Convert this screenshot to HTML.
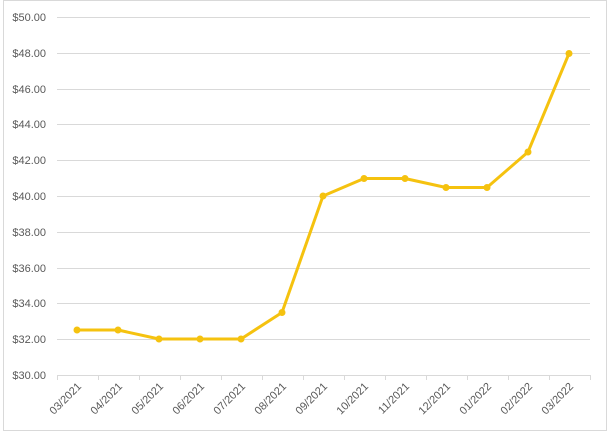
<!DOCTYPE html>
<html><head><style>body{margin:0;background:#fff}</style></head><body>
<svg width="610" height="435" xmlns="http://www.w3.org/2000/svg" font-family="Liberation Sans, sans-serif">
<rect x="3.5" y="0.5" width="603" height="430" fill="#fff" stroke="#d9d9d9"/>
<g stroke="#d9d9d9" stroke-width="1">
<line x1="57" x2="590" y1="17.5" y2="17.5"/><line x1="57" x2="590" y1="53.5" y2="53.5"/>
<line x1="57" x2="590" y1="89.5" y2="89.5"/><line x1="57" x2="590" y1="124.5" y2="124.5"/>
<line x1="57" x2="590" y1="160.5" y2="160.5"/><line x1="57" x2="590" y1="196.5" y2="196.5"/>
<line x1="57" x2="590" y1="232.5" y2="232.5"/><line x1="57" x2="590" y1="268.5" y2="268.5"/>
<line x1="57" x2="590" y1="303.5" y2="303.5"/><line x1="57" x2="590" y1="339.5" y2="339.5"/>
<line x1="57" x2="590" y1="375.5" y2="375.5"/>
<line x1="57.5" x2="57.5" y1="375" y2="380"/><line x1="98.5" x2="98.5" y1="375" y2="380"/>
<line x1="139.5" x2="139.5" y1="375" y2="380"/><line x1="180.5" x2="180.5" y1="375" y2="380"/>
<line x1="221.5" x2="221.5" y1="375" y2="380"/><line x1="262.5" x2="262.5" y1="375" y2="380"/>
<line x1="303.5" x2="303.5" y1="375" y2="380"/><line x1="344.5" x2="344.5" y1="375" y2="380"/>
<line x1="385.5" x2="385.5" y1="375" y2="380"/><line x1="426.5" x2="426.5" y1="375" y2="380"/>
<line x1="467.5" x2="467.5" y1="375" y2="380"/><line x1="508.5" x2="508.5" y1="375" y2="380"/>
<line x1="549.5" x2="549.5" y1="375" y2="380"/><line x1="590.5" x2="590.5" y1="375" y2="380"/>
</g>
<g font-size="11" fill="#595959" text-anchor="end">
<text x="46" y="21">$50.00</text><text x="46" y="57">$48.00</text><text x="46" y="93">$46.00</text>
<text x="46" y="128">$44.00</text><text x="46" y="164">$42.00</text><text x="46" y="200">$40.00</text>
<text x="46" y="236">$38.00</text><text x="46" y="272">$36.00</text><text x="46" y="307">$34.00</text>
<text x="46" y="343">$32.00</text><text x="46" y="379">$30.00</text>
</g>
<g font-size="11" fill="#595959" text-anchor="end">
<text transform="translate(82,387) rotate(-45)">03/2021</text>
<text transform="translate(123,387) rotate(-45)">04/2021</text>
<text transform="translate(164,387) rotate(-45)">05/2021</text>
<text transform="translate(205,387) rotate(-45)">06/2021</text>
<text transform="translate(246,387) rotate(-45)">07/2021</text>
<text transform="translate(287,387) rotate(-45)">08/2021</text>
<text transform="translate(328,387) rotate(-45)">09/2021</text>
<text transform="translate(369,387) rotate(-45)">10/2021</text>
<text transform="translate(410,387) rotate(-45)">11/2021</text>
<text transform="translate(451,387) rotate(-45)">12/2021</text>
<text transform="translate(492,387) rotate(-45)">01/2022</text>
<text transform="translate(533,387) rotate(-45)">02/2022</text>
<text transform="translate(574,387) rotate(-45)">03/2022</text>
</g>
<polyline fill="none" stroke="#f5c20f" stroke-width="3" stroke-linejoin="round"
points="77,330 118,330 159,339 200,339 241,339 282,312.5 323,196 364,178.5 405,178.5 446,187.5 487,187.5 528,152 569,53.5"/>
<g fill="#f5c20f">
<circle cx="77" cy="330" r="3.5"/><circle cx="118" cy="330" r="3.5"/><circle cx="159" cy="339" r="3.5"/>
<circle cx="200" cy="339" r="3.5"/><circle cx="241" cy="339" r="3.5"/><circle cx="282" cy="312.5" r="3.5"/>
<circle cx="323" cy="196" r="3.5"/><circle cx="364" cy="178.5" r="3.5"/><circle cx="405" cy="178.5" r="3.5"/>
<circle cx="446" cy="187.5" r="3.5"/><circle cx="487" cy="187.5" r="3.5"/><circle cx="528" cy="152" r="3.5"/>
<circle cx="569" cy="53.5" r="3.5"/>
</g>
</svg>
</body></html>
